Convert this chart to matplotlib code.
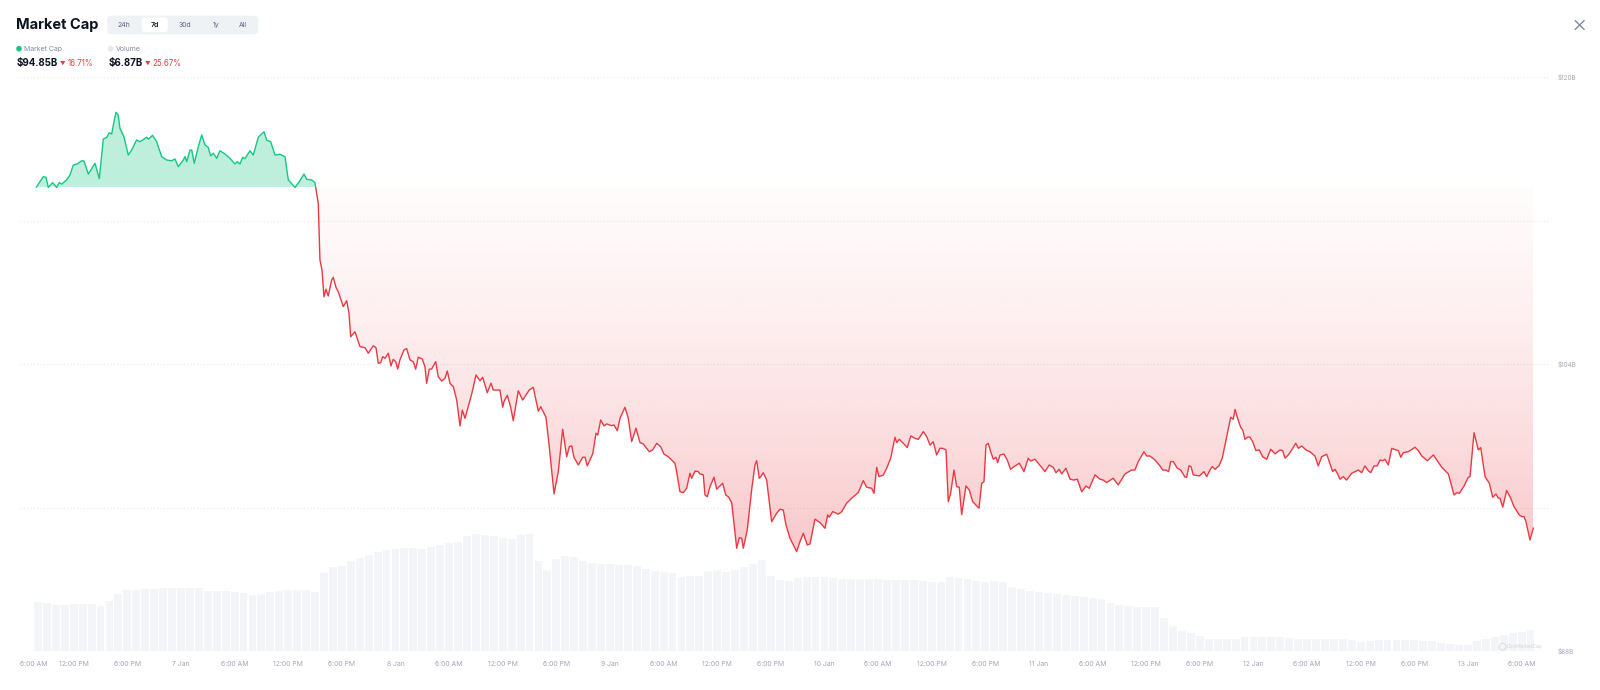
import numpy as np
import matplotlib
matplotlib.use('Agg')
import matplotlib.pyplot as plt
from matplotlib.patches import FancyBboxPatch, Circle
from matplotlib.lines import Line2D
from matplotlib.path import Path

plt.rcParams['font.family'] = ['Inter', 'DejaVu Sans']

# market cap line: hours after 6 Jan 00:00, value in $B
hours = [
    7.83, 8.59, 8.90, 9.15, 9.64, 10.09, 10.38, 10.65, 11.21, 11.58,
    11.95, 12.40, 12.89, 13.15, 13.63, 14.38, 14.86, 15.31, 15.69, 15.98,
    16.25, 16.43, 16.73, 16.98, 17.17, 17.62, 18.10, 18.48, 19.04, 19.41,
    20.16, 20.34, 20.83, 21.28, 21.84, 22.40, 22.96, 23.33, 23.70, 24.26,
    24.45, 24.64, 25.01, 25.20, 25.49, 25.94, 26.32, 26.69, 27.05, 27.32,
    27.62, 28.00, 28.36, 28.92, 29.48, 30.04, 30.30, 30.60, 30.90, 31.16,
    31.72, 32.09, 32.65, 33.29, 33.59, 34.04, 34.52, 35.08, 35.64, 36.01,
    36.76, 37.24, 37.76, 38.07, 38.62, 38.99, 39.36, 39.55, 39.78, 40.00,
    40.22, 40.48, 40.86, 41.04, 41.34, 41.60, 42.16, 42.54, 42.80, 42.99,
    43.47, 44.03, 44.59, 44.96, 45.52, 45.82, 46.08, 46.34, 46.57, 46.83,
    47.20, 47.50, 47.75, 48.02, 48.25, 48.50, 48.95, 49.25, 49.62, 49.99,
    50.26, 50.55, 51.00, 51.30, 51.49, 51.78, 52.05, 52.50, 52.79, 53.17,
    53.54, 53.80, 54.10, 54.47, 54.85, 55.22, 55.48, 55.78, 56.53, 57.01,
    57.46, 57.76, 58.27, 58.69, 58.94, 59.69, 60.00, 60.14, 60.51, 60.89,
    61.18, 61.74, 62.23, 62.97, 63.42, 63.98, 64.25, 64.84, 65.21, 65.74,
    66.22, 66.71, 67.16, 67.45, 67.72, 67.97, 68.46, 68.95, 69.21, 69.46,
    70.07, 70.44, 70.63, 70.96, 71.33, 71.63, 72.19, 72.45, 72.82, 73.12,
    73.68, 74.05, 74.43, 74.91, 75.36, 75.73, 76.40, 76.78, 77.23, 77.67,
    78.04, 78.52, 79.27, 79.46, 79.83, 80.21, 80.58, 80.95, 81.14, 81.51, 81.88,
    82.07, 82.44, 82.63, 82.89, 83.19, 83.64, 83.94, 84.61, 84.95, 85.24,
    85.62, 86.18, 86.47, 86.74, 86.92, 87.36, 87.85, 88.22, 88.41, 88.71,
    88.86, 89.15, 89.53, 90.09, 90.65, 91.02, 91.39, 91.69, 92.14, 92.89,
    93.26, 93.63, 94.08, 94.38, 94.94, 95.50, 96.06, 96.36, 96.54, 96.92,
    97.55, 97.93, 98.48, 99.16, 99.78, 100.34, 100.72, 101.28, 101.54, 101.84,
    102.10, 102.58, 102.96, 103.41, 103.89, 104.08, 104.37, 104.82, 105.27, 105.65,
    106.13, 106.50, 107.06, 107.44, 107.81, 108.17, 108.55, 108.92, 109.23, 109.60,
    109.85, 110.12, 110.49, 110.79, 111.08, 111.35, 111.83, 112.20, 112.58, 112.95,
    113.29, 113.59, 113.85, 114.07, 114.33, 114.60, 114.89, 115.19, 115.38, 115.64,
    116.08, 116.45, 116.83, 117.20, 117.80, 118.32, 118.80, 119.07, 119.55, 120.30,
    120.67, 121.15, 121.60, 121.90, 122.27, 122.54, 123.02, 123.47, 123.92, 124.29,
    124.78, 125.26, 125.63, 126.27, 126.82, 127.19, 127.57, 128.31, 128.87, 129.62,
    130.37, 130.74, 131.11, 131.75, 132.05, 132.42,
    132.98, 133.54, 133.84, 134.21, 134.51, 134.74, 135.03, 135.48, 135.86, 136.34,
    136.53, 136.78, 137.01, 137.27, 137.94, 138.46, 138.77, 139.14, 139.39, 139.70,
    140.14, 140.51, 141.01, 141.45, 141.74, 141.94, 142.23, 142.57, 142.80, 143.05,
    143.35, 143.61, 143.91, 144.28, 144.65, 145.03, 145.48, 145.93, 146.41, 146.97,
    147.27, 147.53, 147.90, 148.28, 148.73, 149.02, 149.40, 149.88, 150.32, 150.88,
    151.25, 151.63, 152.19, 152.48, 152.86, 153.12, 153.38, 153.68, 154.05, 154.43,
    154.99, 155.36, 155.73, 156.11, 156.48, 156.85, 157.12, 157.49, 157.86, 158.16,
    158.46, 158.72, 159.09, 159.47, 159.73, 160.21, 160.48, 160.77, 161.33, 162.08,
    162.45, 162.83, 163.46, 164.13, 164.51, 165.07, 165.81, 166.44, 166.75, 167.04,
    167.56, 168.04, 168.23, 168.68, 169.16, 169.43, 169.91, 170.39, 170.77, 171.14,
    171.40, 171.59, 171.89, 172.33, 172.78, 173.15, 173.74, 174.01, 174.27, 174.49,
    174.94, 175.31,
]
mcap = [
    113.87, 114.44, 114.41, 113.85, 114.11, 113.85, 114.11, 114.03, 114.26, 114.54,
    115.09, 115.15, 115.33, 115.32, 114.59, 115.19, 114.33, 116.54, 116.64, 116.89,
    116.82, 117.32, 118.03, 117.88, 117.14, 116.67, 115.65, 115.93, 116.49, 116.39,
    116.64, 116.53, 116.75, 116.39, 115.56, 115.37, 115.33, 115.43, 115.00, 115.37,
    115.56, 115.28, 115.93, 115.93, 115.19, 116.11, 116.77, 116.21, 116.08, 115.60,
    115.75, 115.47, 115.89, 115.71, 115.47, 115.15, 115.28, 115.15, 115.52, 115.45,
    115.89, 115.65, 116.64, 116.95, 116.48, 116.39, 115.65, 115.69, 115.56, 114.26,
    113.85, 114.16, 114.59, 114.30, 114.26, 114.11, 112.96, 109.80, 109.24, 107.75,
    108.17, 107.79, 108.68, 108.83, 108.28, 108.03, 107.20, 107.53, 106.83, 105.52,
    105.80, 104.97, 104.91, 104.60, 105.02, 104.91, 104.04, 104.07, 104.41, 104.32,
    104.60, 103.89, 104.26, 104.13, 103.72, 104.23, 104.78, 104.86, 104.23, 104.13,
    103.71, 104.38, 104.28, 103.85, 102.92, 103.71, 103.72, 104.13, 103.29, 103.05,
    103.20, 103.61, 102.92, 102.74, 101.99, 100.55, 101.43, 100.97, 102.33, 103.39,
    103.07, 103.26, 102.40, 102.93, 102.55, 102.55, 101.59, 101.90, 102.26, 101.59,
    100.84, 102.51, 101.99, 102.55, 102.70, 101.37, 101.62, 101.03, 99.39, 96.76,
    98.00, 100.36, 98.83, 99.39, 99.44, 98.80, 98.37, 98.80, 98.80, 98.32,
    98.99, 100.14, 100.04, 100.88, 100.55, 100.66, 100.56, 100.60, 100.28, 100.97,
    101.59, 100.97, 99.67, 100.42, 99.62, 99.54, 99.11, 99.21, 99.58, 99.39,
    98.98, 98.83, 98.47, 98.00, 96.88, 96.83, 97.07, 97.91, 97.63, 98.03, 98.00,
    97.87, 97.82, 96.70, 96.60, 97.16, 97.69, 97.02, 97.35, 96.70, 96.60,
    96.27, 93.73, 94.32, 94.28, 93.73, 94.75, 96.98, 98.37, 98.61, 97.63,
    97.72, 97.94, 97.54, 95.21, 95.68, 95.90, 95.86, 95.03, 94.29, 93.54,
    94.10, 94.56, 93.91, 93.97, 95.35, 95.16, 94.84, 95.59, 95.46, 95.77,
    95.63, 95.77, 96.24, 96.57, 96.83, 97.50, 97.13, 97.07, 96.79, 98.24,
    97.72, 97.81, 98.19, 98.75, 99.92, 99.62, 99.80, 99.58, 99.34, 99.99,
    99.86, 99.80, 100.23, 99.95, 99.48, 99.67, 98.93, 99.30, 99.30, 99.21,
    96.33, 96.80, 98.09, 97.16, 97.13, 95.60, 97.20, 96.98, 96.33, 96.14,
    95.96, 97.35, 97.44, 99.48, 99.58, 99.11, 98.69, 98.80, 98.50, 98.93,
    98.98, 98.65, 98.13, 98.28, 98.47, 98.00, 98.75, 98.59, 98.69, 98.24,
    98.00, 98.37, 98.24, 97.94, 98.13, 97.87, 98.19, 97.58, 97.53, 97.58,
    96.88, 97.20, 97.07, 97.82, 97.58, 97.53, 97.39, 97.63, 97.26, 97.87,
    98.09, 98.09, 98.56, 99.11, 98.87, 98.87,
    98.65, 98.32, 98.09, 98.09, 98.00, 98.56, 98.56, 98.19, 98.09, 97.69,
    97.69, 98.32, 98.28, 97.82, 97.76, 98.00, 97.72, 98.09, 98.28, 98.13,
    98.32, 98.75, 99.95, 101.03, 100.92, 101.47, 100.97, 100.47, 100.32, 99.80,
    99.92, 99.92, 99.67, 99.17, 99.21, 98.83, 98.69, 99.25, 98.99, 99.21,
    99.17, 98.75, 98.93, 99.21, 99.58, 99.30, 99.43, 99.21, 99.11, 98.87,
    98.32, 98.83, 98.97, 98.56, 98.00, 98.13, 97.91, 97.58, 97.72, 97.53,
    97.91, 98.00, 98.09, 97.94, 98.32, 98.05, 97.94, 98.32, 98.32, 98.65,
    98.61, 98.69, 98.37, 99.30, 99.25, 99.17, 98.80, 99.06, 99.11, 99.36,
    99.17, 98.87, 98.61, 98.93, 98.65, 98.24, 97.87, 96.70, 96.83, 96.79,
    97.20, 97.69, 97.72, 100.17, 99.21, 99.34, 97.72, 97.35, 96.57, 96.75,
    96.52, 96.52, 96.02, 96.95, 96.52, 96.05, 95.59, 95.49, 95.49, 95.21,
    94.19, 94.85,
]

# volume bars, one per hour, $B
vol_hours = list(range(8, 176))
volume = [
    15.78, 15.30, 14.88, 14.66, 15.14, 15.10, 15.04, 14.27, 16.16, 18.37,
    19.42, 19.62, 19.74, 19.94, 20.22, 20.26, 20.16, 20.10, 20.06, 19.36,
    19.23, 19.14, 18.98, 18.69, 18.05, 18.34, 18.78, 19.20, 19.65, 19.58,
    19.46, 19.04, 24.96, 26.94, 27.36, 28.67, 29.82, 30.72, 31.62, 32.26,
    32.54, 32.96, 32.90, 32.77, 33.28, 33.92, 34.43, 34.88, 36.80, 37.38,
    37.06, 36.74, 36.32, 35.84, 37.12, 37.34, 28.80, 25.92, 29.44, 30.40,
    29.95, 28.90, 28.32, 28.00, 27.84, 27.65, 27.39, 27.26, 26.37, 25.76,
    25.38, 25.12, 23.62, 24.00, 24.00, 25.60, 26.08, 25.44, 26.08, 26.94,
    28.00, 29.12, 24.16, 22.88, 22.40, 23.36, 23.74, 23.68, 23.62, 23.52,
    23.14, 22.94, 22.98, 23.04, 23.04, 22.85, 22.72, 22.72, 22.62, 22.46,
    22.24, 22.02, 23.78, 23.52, 23.20, 22.34, 22.24, 22.56, 22.08, 20.38,
    19.74, 19.20, 18.82, 18.50, 18.18, 17.89, 17.60, 17.38, 17.12, 16.80,
    15.52, 14.78, 14.40, 14.24, 14.11, 14.02, 10.72, 8.16, 6.40, 5.76,
    4.80, 4.00, 3.70, 3.80, 4.00, 4.38, 4.48, 4.54, 4.58, 4.45,
    4.26, 4.00, 3.84, 3.74, 3.74, 3.74, 3.74, 3.52, 3.04, 3.20,
    3.42, 3.52, 3.49, 3.42, 3.39, 3.36, 3.30, 2.50, 2.24, 2.08,
    1.92, 3.20, 3.84, 4.54, 5.28, 5.76, 6.18, 6.87,
]

tab_names = ['24h', '7d', '30d', '1y', 'All']

GREEN = '#16c784'
RED = '#ea3943'
DARK = '#0d1421'
GREY = '#808a9d'
AXIS = '#a1a7b8'

t = np.array(hours)
v = np.array(mcap)
base = v[0]

fig = plt.figure(figsize=(16, 6.9), dpi=100)
pos = [0.01256, 0.05652, 0.95519, 0.83188]
ax_v = fig.add_axes(pos)
ax = fig.add_axes(pos, sharex=ax_v)
ax.patch.set_alpha(0)

# volume underneath, very faint
ax_v.bar(vol_hours, volume, width=0.88, color='#f3f5f8', linewidth=0)
ax_v.set_ylim(0, 183.7)
ax_v.axis('off')

# green area above the opening value
ax.fill_between(t, v, base, where=v >= base, interpolate=True,
                color=GREEN, alpha=0.28, linewidth=0, zorder=1)

# red gradient area below it
red = ax.fill_between(t, v, base, where=v <= base, interpolate=True,
                      facecolor='none', edgecolor='none')
clip = Path.make_compound_path(*red.get_paths())
frac = np.linspace(0, 1, 256)[:, None]
grad = np.zeros((256, 1, 4))
grad[..., :3] = matplotlib.colors.to_rgb(RED)
grad[..., 3] = 0.02 + 0.36 * frac ** 1.4
im = ax.imshow(grad, extent=(t[0], t[-1], 88, base), origin='upper',
               aspect='auto', interpolation='bilinear', zorder=1)
im.set_clip_path(clip, transform=ax.transData)

# line: green above, red below
above = Path([[0, base], [200, base], [200, 200], [0, 200], [0, base]], closed=True)
below = Path([[0, 0], [200, 0], [200, base], [0, base], [0, 0]], closed=True)
for col, p in [(GREEN, above), (RED, below)]:
    ln, = ax.plot(t, v, color=col, lw=1.0, zorder=3, solid_joinstyle='round')
    ln.set_clip_path(p, transform=ax.transData)

# axes
ticks = list(range(6, 177, 6))
def tick_name(h):
    if h % 24 == 0:
        return f'{6 + h // 24} Jan'
    return {6: '6:00 AM', 12: '12:00 PM', 18: '6:00 PM'}[h % 24]

ax.set_xticks(ticks, [tick_name(h) for h in ticks])
ax.set_xlim(6, 177)
ax.set_ylim(88, 120)
ax.yaxis.tick_right()
ax.set_yticks([88, 96, 104, 112, 120], ['$88B', '', '$104B', '', '$120B'])
ax.tick_params(axis='both', length=0, labelcolor=AXIS)
ax.tick_params(axis='x', pad=7, labelsize=4.9)
ax.tick_params(axis='y', pad=6.4, labelsize=4.6)
ax.grid(axis='y', color='#e4e8ee', linestyle=(0, (1, 2)), linewidth=0.8, zorder=0)
ax.set_axisbelow(True)
for s in ax.spines.values():
    s.set_visible(False)
ax.xaxis.get_major_ticks()[0].label1.set_horizontalalignment('left')

# header, laid out in pixels from the top-left
tr = fig.dpi_scale_trans
def px(x, y):
    return x / 100, (690 - y) / 100

fig.text(*px(16, 25.5), 'Market Cap', transform=tr, fontsize=10.5,
         fontweight='bold', color=DARK, va='center')

fig.add_artist(FancyBboxPatch(px(107.3, 34.3), 1.51, 0.186, transform=tr,
                              boxstyle='round,pad=0,rounding_size=0.04',
                              fc='#eff2f5', ec='none'))
fig.add_artist(FancyBboxPatch(px(141.7, 32.3), 0.26, 0.15, transform=tr,
                              boxstyle='round,pad=0,rounding_size=0.03',
                              fc='white', ec='none'))
for name, cx in zip(tab_names, [124.3, 154.7, 185.3, 215.7, 243.3]):
    sel = name == '7d'
    fig.text(*px(cx, 24.7), name, transform=tr, fontsize=5, ha='center', va='center',
             color=DARK if sel else '#58667e', fontweight='semibold' if sel else 'normal')

fig.add_artist(Circle(px(19, 48.7), 0.021, transform=tr, color=GREEN))
fig.text(*px(24, 48.7), 'Market Cap', transform=tr, fontsize=5, color=GREY, va='center')
fig.add_artist(Circle(px(110.7, 48.7), 0.021, transform=tr, color='#e6e9ee'))
fig.text(*px(115.7, 48.7), 'Volume', transform=tr, fontsize=5, color=GREY, va='center')

fig.text(*px(16.5, 63.3), '$94.85B', transform=tr, fontsize=7, fontweight='bold',
         color=DARK, va='center')
fig.text(*px(62.5, 63.3), '▼', transform=tr, fontsize=4, color=RED, ha='center', va='center')
fig.text(*px(67.7, 63.3), '16.71%', transform=tr, fontsize=5.7, color=RED, va='center')
fig.text(*px(109, 63.3), '$6.87B', transform=tr, fontsize=7, fontweight='bold',
         color=DARK, va='center')
fig.text(*px(148, 63.3), '▼', transform=tr, fontsize=4, color=RED, ha='center', va='center')
fig.text(*px(152.3, 63.3), '25.67%', transform=tr, fontsize=5.7, color=RED, va='center')

# close cross
for y0, y1 in [(20.7, 29.3), (29.3, 20.7)]:
    fig.add_artist(Line2D([15.753, 15.84], [px(0, y0)[1], px(0, y1)[1]],
                          transform=tr, color=GREY, lw=1))

# watermark
fig.add_artist(Circle(px(1502.5, 646.7), 0.035, transform=tr, fc='none',
                      ec='#d3d7de', lw=0.6))
fig.text(*px(1507, 646.7), 'CoinMarketCap', transform=tr, fontsize=3.5,
         color='#cfd4db', va='center')

fig.savefig('out.png', dpi=100)
